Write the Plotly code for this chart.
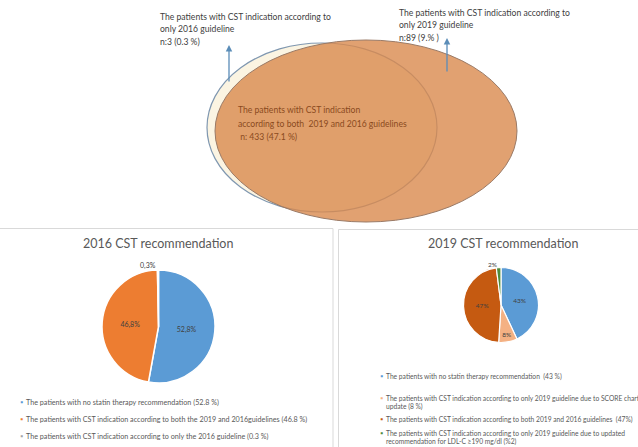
import plotly.graph_objects as go

W, H = 638, 447
FONT = "Lato, Carlito, Calibri, sans-serif"

# ---- Venn counts ----
only2016_n, only2016_pct = 3, "0.3 %"
only2019_n, only2019_pct = 89, "9.% "
both_n, both_pct = 433, "47.1 %"

# ---- 2016 CST recommendation ----
pie2016_labels = [
    "The patients with no statin therapy recommendation (52.8 %)",
    "The patients with CST indication according to both the 2019 and 2016guidelines (46.8 %)",
    "The patients with CST indication according to only the 2016 guideline (0.3 %)",
]
pie2016_values = [52.8, 46.8, 0.3]
pie2016_colors = ["#5B9BD5", "#ED7D31", "#A5A5A5"]

# ---- 2019 CST recommendation ----
pie2019_labels = [
    ["The patients with no statin therapy recommendation  (43 %)"],
    ["The patients with CST indication according to only 2019 guideline due to SCORE chart",
     "update (8 %)"],
    ["The patients with CST indication according to both 2019 and 2016 guidelines  (47%)"],
    ["The patients with CST indication according to only 2019 guideline due to updated",
     "recommendation for LDL-C \u2265190 mg/dl (%2)"],
]
pie2019_values = [43, 8, 47, 2]
pie2019_colors = ["#5B9BD5", "#F4B183", "#C55A11", "#4E8B3A"]


def fx(x):
    return x / W


def fy(y):
    return 1 - y / H


def dom(cx, cy, r):
    return dict(x=[fx(cx - r), fx(cx + r)], y=[fy(cy + r), fy(cy - r)])


fig = go.Figure()

fig.add_trace(go.Pie(
    values=pie2016_values,
    labels=[f"a{i}" for i in range(len(pie2016_values))],
    text=[f"{v:.1f}%".replace(".", ",") for v in pie2016_values],
    textinfo="text",
    textposition=["inside", "inside", "outside"],
    insidetextorientation="horizontal",
    textfont=dict(family=FONT, size=7, color="#404040"),
    marker=dict(colors=pie2016_colors, line=dict(color="white", width=1.5)),
    sort=False, direction="clockwise", rotation=0,
    domain=dom(158.5, 326.5, 56.5),
    showlegend=False, hoverinfo="skip",
))

fig.add_trace(go.Pie(
    values=pie2019_values,
    labels=[f"b{i}" for i in range(len(pie2019_values))],
    text=[f"{v:g}%" for v in pie2019_values],
    textinfo="text",
    textposition=["inside", "inside", "inside", "outside"],
    insidetextorientation="horizontal",
    textfont=dict(family=FONT, size=6.5, color="#404040"),
    marker=dict(colors=pie2019_colors, line=dict(color="white", width=1.2)),
    sort=False, direction="clockwise", rotation=0,
    domain=dom(501, 305, 37.5),
    showlegend=False, hoverinfo="skip",
))

shapes = []
# panel frames
shapes.append(dict(type="rect", xref="paper", yref="paper",
                   x0=fx(-2), x1=fx(333), y0=fy(452), y1=fy(228.5),
                   line=dict(color="#D9D9D9", width=1), fillcolor="white", layer="below"))
shapes.append(dict(type="rect", xref="paper", yref="paper",
                   x0=fx(338.5), x1=fx(645), y0=fy(452), y1=fy(229.5),
                   line=dict(color="#D9D9D9", width=1), fillcolor="white", layer="below"))
# 2016 set
shapes.append(dict(type="circle", xref="paper", yref="paper",
                   x0=fx(207), x1=fx(437), y0=fy(212), y1=fy(43),
                   line=dict(color="#7F97B0", width=1.2), fillcolor="#FBF4E2", layer="below"))
# 2019 set
shapes.append(dict(type="circle", xref="paper", yref="paper",
                   x0=fx(215), x1=fx(517), y0=fy(222), y1=fy(40),
                   line=dict(color="#9A7A66", width=1), fillcolor="rgba(218,138,78,0.8)",
                   layer="below"))

ann = []


def text_lines(x, ys, lines, size, color, anchor="left"):
    for y, t in zip(ys, lines):
        ann.append(dict(x=fx(x), y=fy(y), xref="paper", yref="paper", text=t,
                        showarrow=False, xanchor=anchor, yanchor="middle",
                        font=dict(family=FONT, size=size, color=color)))


text_lines(158, [17, 29, 42],
           ["The patients with CST indication according to",
            "only 2016 guideline",
            f"n:{only2016_n} ({only2016_pct})"], 8.6, "#404040")
text_lines(397, [13, 25, 38],
           ["The patients with CST indication according to",
            "only 2019 guideline",
            f"n:{only2019_n} ({only2019_pct})"], 8.6, "#404040")
text_lines(236, [110, 124, 137],
           ["The patients with CST indication",
            "according to both  2019 and 2016 guidelines",
            f" n: {both_n} ({both_pct})"], 8.6, "#8A4A1E")

# arrows pointing to the exclusive regions
for hx, hy, ty in [(229, 45, 83), (447, 38, 73)]:
    ann.append(dict(x=fx(hx), y=fy(hy), xref="paper", yref="paper", text="",
                    showarrow=True, ax=0, ay=ty - hy, axref="pixel", ayref="pixel",
                    arrowhead=2, arrowsize=1, arrowwidth=1.3, arrowcolor="#5B8DB8"))

# pie titles
text_lines(158, [243], ["2016 CST recommendation"], 12.5, "#595959", anchor="center")
text_lines(503, [243], ["2019 CST recommendation"], 12.5, "#595959", anchor="center")

# 2016 legend
for y, lab, c in zip([402, 419, 436], pie2016_labels, pie2016_colors):
    text_lines(18, [y], [f"<span style='color:{c}'>\u25aa</span>"], 7.5, c)
    text_lines(24, [y], [lab], 7.2, "#595959")

# 2019 legend
legend2019_y = [[376], [398, 406], [419], [433, 441]]
for ys, lab, c in zip(legend2019_y, pie2019_labels, pie2019_colors):
    text_lines(378, [ys[0]], [f"<span style='color:{c}'>\u25aa</span>"], 7.5, c)
    text_lines(384, ys, lab, 6.7, "#595959")

fig.update_layout(
    width=W, height=H,
    margin=dict(l=0, r=0, t=0, b=0),
    paper_bgcolor="white", plot_bgcolor="white",
    shapes=shapes, annotations=ann,
)

fig.write_html("out.html")
